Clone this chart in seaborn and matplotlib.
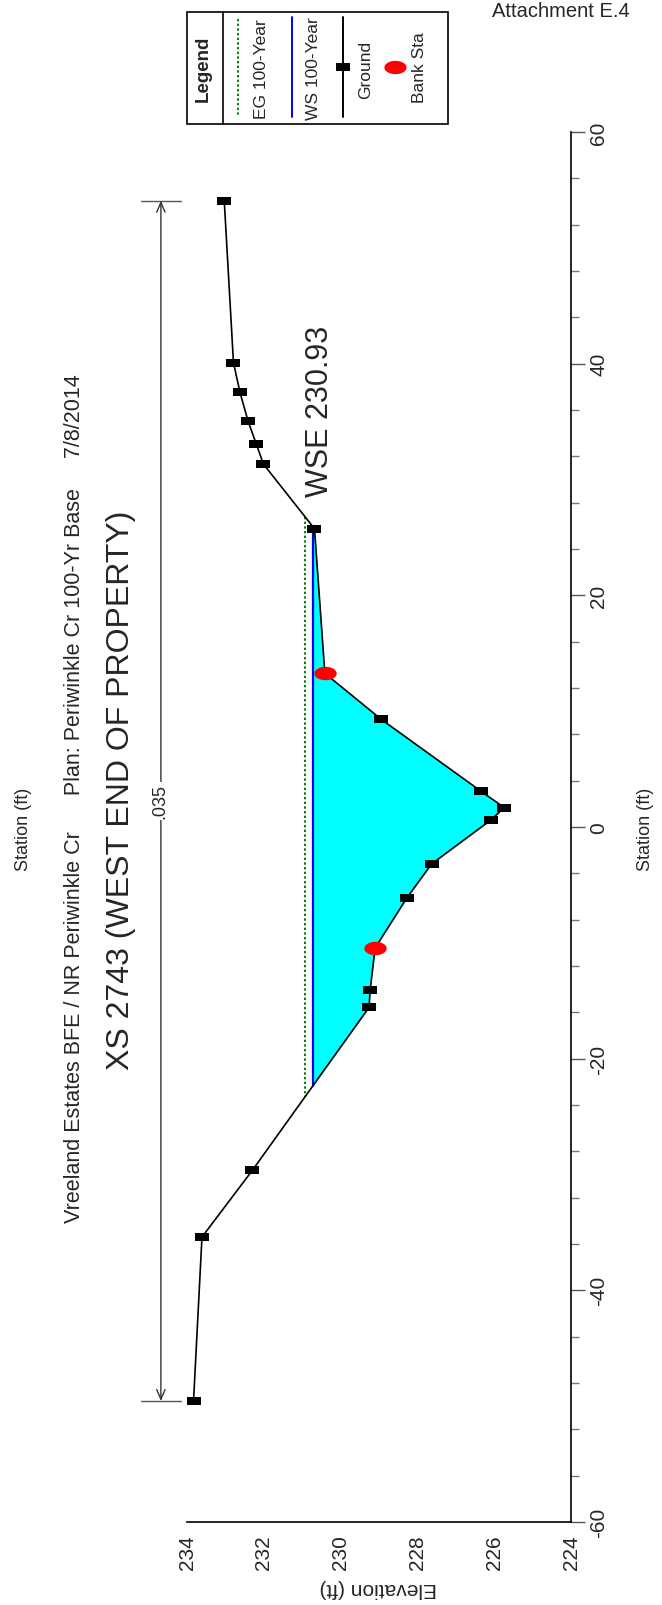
import matplotlib
matplotlib.use('Agg')

import matplotlib.pyplot as plt
from matplotlib.lines import Line2D
from matplotlib.patches import Rectangle
from matplotlib.path import Path
import numpy as np
import seaborn as sns

# ground profile, top of page to bottom (station ft, elevation ft)
ground_sta = [54.07, 40.09, 37.52, 35.04, 33.10, 31.33, 25.75, 13.27, 9.29,
              3.10, 1.68, 0.62, -3.19, -6.10, -10.44, -14.07, -15.58,
              -29.65, -35.40, -49.56]
ground_elev = [233.03, 232.79, 232.62, 232.41, 232.20, 232.01, 230.68,
               230.41, 228.94, 226.35, 225.74, 226.08, 227.63, 228.27,
               229.10, 229.23, 229.26, 232.30, 233.61, 233.83]
bank_sta = [13.27, -10.44]
bank_elev = [230.41, 229.10]
ws_elev = 230.73
eg_elev = 230.93
wse_label = "WSE 230.93"
n_value = ".035"

sta_ticks = [-60, -40, -20, 0, 20, 40, 60]
elev_ticks = [224, 226, 228, 230, 232, 234]

title1 = ("Vreeland Estates BFE / NR Periwinkle Cr      "
          "Plan: Periwinkle Cr 100-Yr Base     7/8/2014")
title2 = "XS 2743 (WEST END OF PROPERTY)"

sns.set_style("white")
plt.rcParams['axes.unicode_minus'] = False
plt.rcParams['font.family'] = ['Liberation Sans', 'DejaVu Sans']

W, H = 662, 1606
fig = plt.figure(figsize=(W / 100, H / 100), dpi=100)


def fx(px):
    return px / W


def fy(py):
    return 1 - py / H


# plot area: x = elevation (reversed), y = station
ax = fig.add_axes([fx(187), fy(1523), fx(571) - fx(187), fy(133) - fy(1523)])
ax.set_xlim(234, 224)
ax.set_ylim(-60, 60)


def crossings(level):
    s = np.array(ground_sta)
    e = np.array(ground_elev)
    out = []
    for i in range(len(s) - 1):
        if (e[i] - level) * (e[i + 1] - level) < 0:
            t = (level - e[i]) / (e[i + 1] - e[i])
            out.append(s[i] + t * (s[i + 1] - s[i]))
    return max(out), min(out)


ge = np.array(ground_elev)
ax.fill_betweenx(ground_sta, ground_elev, ws_elev, where=ge < ws_elev,
                 interpolate=True, color='#00ffff', lw=0, zorder=1)

eg_top, eg_bot = crossings(eg_elev)
ws_top, ws_bot = crossings(ws_elev)
ax.plot([eg_elev, eg_elev], [eg_top, eg_bot], color='green',
        ls=(0, (1.2, 1.2)), lw=1.4, zorder=2)
ax.plot([ws_elev, ws_elev], [ws_top, ws_bot], color='blue', lw=1.6, zorder=3)

sq = [(-1, -0.55), (1, -0.55), (1, 0.55), (-1, 0.55), (-1, -0.55)]
sns.lineplot(x=ground_elev, y=ground_sta, sort=False, estimator=None,
             color='black', lw=1.2, marker=sq, markersize=10,
             markeredgewidth=0, markerfacecolor='black', ax=ax, zorder=4)

ell = Path(np.column_stack([np.cos(np.linspace(0, 2 * np.pi, 40)),
                            0.6 * np.sin(np.linspace(0, 2 * np.pi, 40))]))
sns.scatterplot(x=bank_elev, y=bank_sta, marker=ell, s=260, color='red',
                linewidth=0, ax=ax, zorder=5)

ax.text(eg_elev, 28.6, wse_label, rotation=90, ha='left', va='bottom',
        fontsize=22, zorder=6)

# n-value span
n_x = 234.68
ax.annotate('', xy=(n_x, ground_sta[0]), xytext=(n_x, ground_sta[-1]),
            arrowprops=dict(arrowstyle='<->,head_length=0.7,head_width=0.3',
                            color='#333333', lw=1, shrinkA=0, shrinkB=0),
            annotation_clip=False)
for s in (ground_sta[0], ground_sta[-1]):
    ax.plot([n_x + 0.52, n_x - 0.52], [s, s], color='#555555', lw=1,
            clip_on=False)
ax.text(n_x + 0.02, (ground_sta[0] + ground_sta[-1]) / 2, n_value,
        rotation=90, ha='center', va='center', fontsize=13,
        bbox=dict(facecolor='white', edgecolor='none', pad=1),
        clip_on=False)

# axes styling
for side in ('top', 'left'):
    ax.spines[side].set_visible(False)
for side in ('right', 'bottom'):
    ax.spines[side].set_color('black')
    ax.spines[side].set_linewidth(1.2)
ax.yaxis.tick_right()
ax.set_yticks(sta_ticks)
ax.set_yticks(np.arange(-60, 61, 4), minor=True)
ax.set_yticklabels([str(t) for t in sta_ticks], rotation=90,
                   va='center', ha='left', fontsize=15)
ax.set_xticks(elev_ticks)
ax.set_xticks(np.arange(224, 234.01, 0.5), minor=True)
ax.set_xticklabels([str(t) for t in elev_ticks], rotation=90,
                   ha='center', va='top', fontsize=15)
ax.tick_params(axis='y', which='major', direction='out', length=10,
               width=1, color='#555555', pad=3, right=True, left=False)
ax.tick_params(axis='y', which='minor', direction='out', length=6,
               width=1, color='#777777', right=True, left=False)
ax.tick_params(axis='x', which='major', direction='inout', length=12,
               width=1, color='#555555', pad=3)
ax.tick_params(axis='x', which='minor', direction='in', length=5,
               width=1, color='#777777')

# page texts
fig.text(fx(646), fy(829), "Station (ft)", rotation=90, ha='center',
         va='center', fontsize=13)
fig.text(fx(23), fy(829), "Station (ft)", rotation=90, ha='center',
         va='center', fontsize=13)
fig.text(fx(378), fy(1589), "Elevation (ft)", rotation=180, ha='center',
         va='center', fontsize=15)
fig.text(fx(75), fy(799), title1, rotation=90, ha='center', va='center',
         fontsize=15.5)
fig.text(fx(121), fy(790), title2, rotation=90, ha='center', va='center',
         fontsize=23)
fig.text(fx(492), fy(2), "Attachment E.4", ha='left', va='top',
         fontsize=14.5)

# legend block
fig.add_artist(Rectangle((fx(187), fy(125)), fx(448) - fx(187),
                         fy(13) - fy(125), fill=False, ec='black', lw=1.2,
                         transform=fig.transFigure))
fig.add_artist(Line2D([fx(223), fx(223)], [fy(13), fy(125)], color='black',
                      lw=1.2))
fig.text(fx(203), fy(69), "Legend", rotation=90, ha='center', va='center',
         fontsize=13.5, fontweight='bold')
fig.add_artist(Line2D([fx(238), fx(238)], [fy(20), fy(118)], color='green',
                      ls=(0, (1.2, 1.2)), lw=1.4))
fig.text(fx(261), fy(69), "EG 100-Year", rotation=90, ha='center',
         va='center', fontsize=12.5)
fig.add_artist(Line2D([fx(292), fx(292)], [fy(18), fy(118)], color='blue',
                      lw=1.4))
fig.text(fx(314), fy(69), "WS 100-Year", rotation=90, ha='center',
         va='center', fontsize=12.5)
fig.add_artist(Line2D([fx(343), fx(343)], [fy(18), fy(118)], color='black',
                      lw=1.4))
fig.add_artist(Line2D([fx(343)], [fy(68)], marker=sq, markersize=10,
                      markeredgewidth=0, color='black', ls='none'))
fig.text(fx(366), fy(70), "Ground", rotation=90, ha='center', va='center',
         fontsize=12.5)
fig.add_artist(Line2D([fx(395)], [fy(68)], marker=ell, markersize=16,
                      markeredgewidth=0, color='red', ls='none'))
fig.text(fx(419), fy(68), "Bank Sta", rotation=90, ha='center', va='center',
         fontsize=12.5)

fig.savefig("out.png", dpi=100)
plt.close(fig)
